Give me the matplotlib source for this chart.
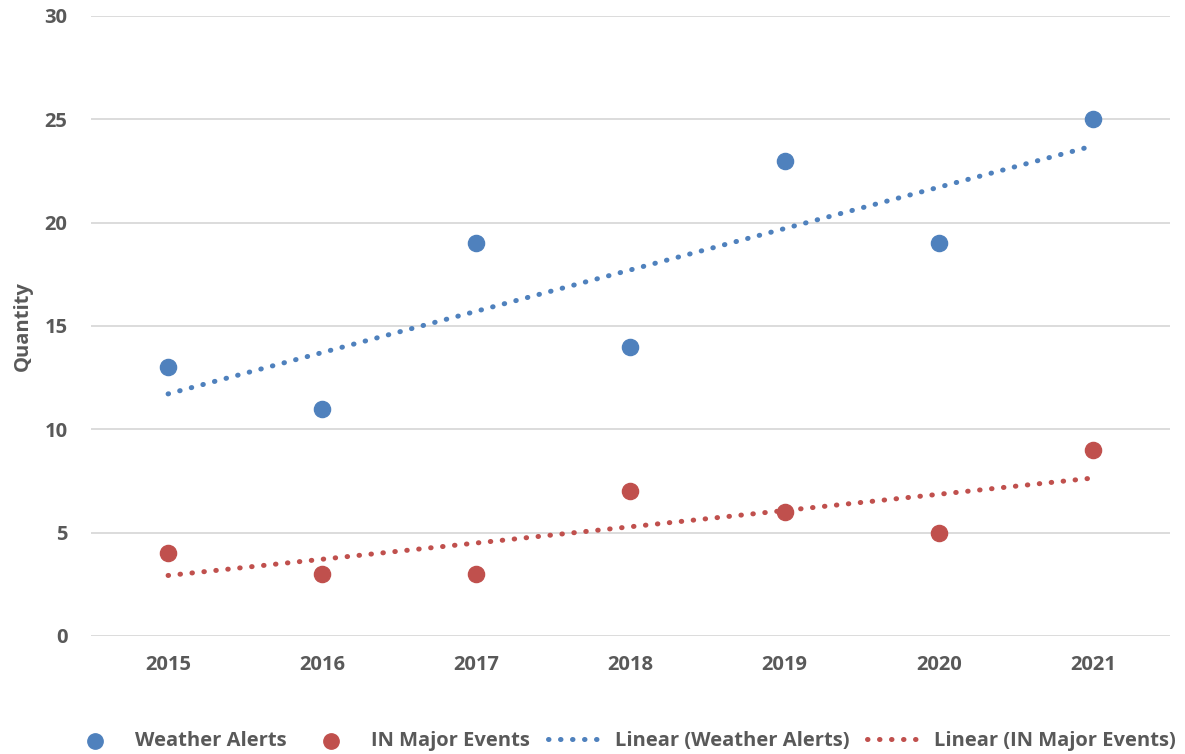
import numpy as np
import matplotlib.pyplot as plt

# datos
anios = [2015, 2016, 2017, 2018, 2019, 2020, 2021]
alertas_clima = [13, 11, 19, 14, 23, 19, 25]
eventos_mayores = [4, 3, 3, 7, 6, 5, 9]

azul = "#4F81BD"
rojo = "#C0504D"
gris = "#595959"

plt.rcParams["font.family"] = ["Open Sans", "DejaVu Sans"]
plt.rcParams["font.weight"] = "bold"

fig = plt.figure(figsize=(11.85, 7.54), dpi=100)
ax = fig.add_axes([0.0768, 0.1565, 0.9105, 0.8223])

x = np.array(anios, dtype=float)

ax.scatter(anios, alertas_clima, s=135, color=azul, zorder=3, label="Weather Alerts")
ax.scatter(anios, eventos_mayores, s=135, color=rojo, zorder=3, label="IN Major Events")

# lineas de tendencia (regresion lineal como en Excel)
m1, b1 = np.polyfit(x, alertas_clima, 1)
m2, b2 = np.polyfit(x, eventos_mayores, 1)
ax.plot(x, m1 * x + b1, color=azul, lw=3.6, ls=(0, (0.1, 2.3)),
        dash_capstyle="round", zorder=2, label="Linear (Weather Alerts)")
ax.plot(x, m2 * x + b2, color=rojo, lw=3.6, ls=(0, (0.1, 2.3)),
        dash_capstyle="round", zorder=2, label="Linear (IN Major Events)")

ax.set_xlim(2014.5, 2021.5)
ax.set_ylim(0, 30)
ax.set_xticks(anios)
ax.set_yticks(range(0, 31, 5))
ax.grid(axis="y", color="#D9D9D9", lw=1.3)
ax.set_axisbelow(True)
for lado in ax.spines.values():
    lado.set_visible(False)
ax.tick_params(length=0, labelsize=14.5, labelcolor=gris)
ax.tick_params(axis="x", pad=14)
ax.tick_params(axis="y", pad=17)
ax.set_ylabel("Quantity", fontsize=14.5, color=gris, fontweight="bold", labelpad=8)

fig.legend(loc="lower center", bbox_to_anchor=(0.525, -0.02), ncol=4, frameon=False,
           fontsize=14.5, labelcolor=gris, handlelength=2.6, handletextpad=0.7,
           columnspacing=0.9, markerscale=0.95)

fig.savefig("out.png", dpi=100)
